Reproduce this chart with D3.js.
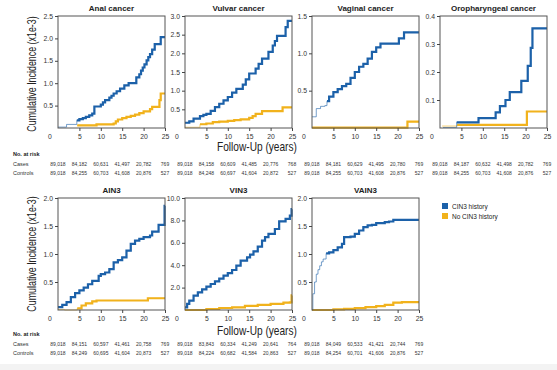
<!DOCTYPE html>
<html>
<head>
<meta charset="utf-8">
<title>Cumulative incidence after CIN3</title>
<script src="https://cdn.jsdelivr.net/npm/d3@7"></script>
<style>
body { margin: 0; background: #fff; }
svg { display: block; font-family: "Liberation Sans", Arial, sans-serif; }
.tick text { fill: #333; font-size: 6.8px; }
.tick line { stroke: #444; }
.domain { display: none; }
</style>
</head>
<body>
<svg width="557" height="370"></svg>
<script>
// ---- data: [year, cumulative incidence x1e-3] ----
var analCIN3 = [[0,0.02],[2,0.08],[4.4,0.17],[5,0.2],[5.8,0.22],[6.5,0.25],[7.3,0.28],[8,0.32],[8.5,0.48],[10,0.52],[10.5,0.57],[11,0.62],[12,0.68],[12.5,0.72],[13,0.77],[13.7,0.82],[14.5,0.88],[15.5,0.95],[16.5,1.0],[18.3,1.13],[19,1.2],[19.4,1.28],[19.8,1.35],[20.2,1.42],[20.7,1.51],[21.1,1.58],[21.5,1.65],[22,1.75],[22.6,1.87],[24,2.03],[25,2.03]];
var analNoCIN3 = [[4.5,0.06],[9,0.08],[13,0.1],[13.5,0.15],[14,0.19],[15,0.22],[16,0.25],[17,0.27],[18,0.3],[19,0.33],[20,0.37],[21.5,0.42],[22,0.47],[23.7,0.62],[24,0.77],[25,0.77]];
var vulvarCIN3 = [[0,0.14],[1,0.18],[2,0.25],[3.5,0.32],[4.3,0.35],[5,0.38],[6,0.46],[7,0.56],[8,0.65],[9,0.74],[10,0.83],[11,0.95],[12,1.05],[13.5,1.16],[14.2,1.3],[15,1.46],[16.5,1.59],[17.2,1.72],[18,1.86],[19.5,2.04],[20.5,2.21],[21,2.33],[21.5,2.47],[23.5,2.7],[24,2.87],[25,2.87]];
var vulvarNoCIN3 = [[0,0.02],[3.5,0.1],[5,0.12],[6.5,0.16],[8,0.17],[10,0.19],[11.5,0.21],[13,0.23],[15,0.27],[15.8,0.32],[16.5,0.38],[18,0.45],[22.8,0.55],[25,0.55]];
var vaginalCIN3 = [[0,0.15],[1,0.26],[2,0.29],[3,0.3],[3.5,0.36],[4,0.42],[5,0.48],[6,0.52],[7,0.56],[8,0.59],[9,0.67],[10,0.75],[11,0.82],[12,0.86],[13,0.93],[14,1.02],[15,1.08],[16,1.13],[20.3,1.2],[21.5,1.28],[25,1.28]];
var vaginalNoCIN3 = [[0,0.005],[22.3,0.085],[25,0.085]];
var oroCIN3 = [[0.7,0.002],[3.9,0.02],[9,0.035],[13,0.056],[14,0.078],[15.3,0.1],[16.3,0.128],[19,0.168],[20.5,0.222],[21.2,0.286],[21.6,0.356],[25,0.356]];
var oroNoCIN3 = [[0.5,0.007],[4,0.011],[20.3,0.059],[25,0.059]];
var ain3CIN3 = [[0,0.05],[1,0.09],[2,0.14],[3,0.23],[4,0.3],[5,0.35],[6,0.4],[7,0.46],[8,0.52],[9.5,0.61],[10,0.64],[11,0.67],[12,0.73],[13,0.85],[14,0.89],[15,0.94],[16,1.06],[17,1.18],[18,1.24],[19,1.27],[20,1.3],[21.5,1.33],[22,1.4],[23.5,1.52],[24.9,1.86],[25,1.86]];
var ain3NoCIN3 = [[0,0.01],[1.5,0.0],[4.5,0.03],[5.5,0.08],[6.5,0.12],[8,0.155],[9,0.17],[21,0.21],[25,0.21]];
var vin3CIN3 = [[0,0.24],[0.5,0.54],[1,0.83],[2,1.28],[3,1.58],[4,1.84],[5,2.08],[6,2.32],[7,2.56],[8,2.8],[9,3.07],[10,3.3],[11,3.57],[12,3.96],[13,4.4],[14.5,4.7],[15.2,4.95],[16,5.24],[17,5.65],[18,6.19],[18.7,6.5],[19.5,6.79],[21,7.23],[22,7.92],[23.5,8.13],[24.5,8.42],[24.9,9.0],[25,9.0]];
var vin3NoCIN3 = [[0,0.0],[5,0.09],[8,0.18],[11,0.24],[14,0.36],[17,0.45],[20,0.54],[23,0.65],[24.5,0.68],[24.9,1.3],[25,1.3]];
var vain3CIN3 = [[0,0.0],[0.2,0.29],[0.6,0.5],[1,0.64],[1.4,0.72],[1.8,0.79],[2.2,0.86],[2.6,0.91],[3.3,1.01],[4,1.03],[5,1.07],[6,1.12],[7,1.18],[7.5,1.3],[9,1.31],[10,1.36],[11,1.42],[12,1.48],[13,1.51],[14,1.52],[15,1.55],[17,1.57],[18,1.58],[19,1.61],[25,1.61]];
var vain3NoCIN3 = [[0,0.0],[5,0.01],[7.5,0.02],[10,0.035],[12.5,0.05],[15,0.07],[17,0.09],[19,0.13],[21,0.14],[25,0.14]];

var riskYears = [0, 5, 10, 15, 20, 25];
var analRisk = [["89,018","84,182","60,631","41,497","20,782","769"],["89,018","84,255","60,703","41,608","20,876","527"]];
var vulvarRisk = [["89,018","84,158","60,609","41,485","20,776","768"],["89,018","84,248","60,697","41,604","20,872","527"]];
var vaginalRisk = [["89,018","84,181","60,629","41,495","20,780","769"],["89,018","84,255","60,703","41,608","20,876","527"]];
var oroRisk = [["89,018","84,187","60,632","41,498","20,782","769"],["89,018","84,255","60,703","41,608","20,876","527"]];
var ain3Risk = [["89,018","84,151","60,597","41,461","20,758","769"],["89,018","84,249","60,695","41,604","20,873","527"]];
var vin3Risk = [["89,018","83,843","60,334","41,249","20,641","764"],["89,018","84,224","60,682","41,584","20,863","527"]];
var vain3Risk = [["89,018","84,049","60,533","41,421","20,744","769"],["89,018","84,254","60,701","41,606","20,876","527"]];

var titles = ["Anal cancer", "Vulvar cancer", "Vaginal cancer", "Oropharyngeal cancer", "AIN3", "VIN3", "VAIN3"];
var yMax = [2.5, 3.0, 1.5, 0.4, 2.0, 10.0, 2.0];
var yTicks = [[0.5,1,1.5,2,2.5],[0.5,1,1.5,2,2.5,3],[0.5,1,1.5],[0.1,0.2,0.3,0.4],[0.5,1,1.5,2],[2,4,6,8,10],[0.5,1,1.5,2]];
var xTicks = [5, 10, 15, 20, 25];
var legendLabels = ["CIN3 history", "No CIN3 history"];

var panels = [
  {cin: analCIN3, no: analNoCIN3, risk: analRisk},
  {cin: vulvarCIN3, no: vulvarNoCIN3, risk: vulvarRisk},
  {cin: vaginalCIN3, no: vaginalNoCIN3, risk: vaginalRisk},
  {cin: oroCIN3, no: oroNoCIN3, risk: oroRisk},
  {cin: ain3CIN3, no: ain3NoCIN3, risk: ain3Risk},
  {cin: vin3CIN3, no: vin3NoCIN3, risk: vin3Risk},
  {cin: vain3CIN3, no: vain3NoCIN3, risk: vain3Risk}
];
// early sparse stretch of each curve is drawn thin (censor-dot look)
var cinThinUntil = [4.4, 0, 3.5, 3.9, 0, 0, 3.3];
var noThinUntil = [0, 3.5, 0, 4, 4.5, 0, 0];

var blue = "#1c61a9", yellow = "#f1b21c";

// ---- layout ----
var colX = [58, 185, 312, 440];
var pw = 107, ph = 112;
var rows = [
  {top: 16, riskY: 156, xlabY: 151, ytitleY: 74},
  {top: 198, riskY: 336, xlabY: 335, ytitleY: 254}
];

var svg = d3.select("svg");

// faint band at the very bottom
svg.append("rect").attr("x", 0).attr("y", 364).attr("width", 557).attr("height", 6).attr("fill", "#f3f3f3");

function drawCurve(g, line, pts, thin, color) {
  g.append("path").datum(pts).attr("d", line)
    .attr("fill", "none").attr("stroke", color).attr("stroke-width", 1).attr("opacity", 0.6);
  var thick = pts.filter(function (d) { return d[0] >= thin; });
  g.append("path").datum(thick).attr("d", line)
    .attr("fill", "none").attr("stroke", color).attr("stroke-width", 2.2);
}

panels.forEach(function (p, i) {
  var row = rows[i < 4 ? 0 : 1];
  var x0 = colX[i < 4 ? i : i - 4];
  var x = d3.scaleLinear().domain([0, 25]).range([x0, x0 + pw]);
  var y = d3.scaleLinear().domain([0, yMax[i]]).range([row.top + ph, row.top]);
  var g = svg.append("g");

  g.append("text")
    .attr("x", x0 + pw / 2).attr("y", row.top - 5)
    .attr("text-anchor", "middle")
    .style("font-size", "8px").style("font-weight", "bold").attr("fill", "#222")
    .text(titles[i]);

  var line = d3.line()
    .x(function (d) { return x(d[0]); })
    .y(function (d) { return y(d[1]); })
    .curve(d3.curveStepAfter);

  drawCurve(g, line, p.no, noThinUntil[i], yellow);
  drawCurve(g, line, p.cin, cinThinUntil[i], blue);

  g.append("rect")
    .attr("x", x0).attr("y", row.top).attr("width", pw).attr("height", ph)
    .attr("fill", "none").attr("stroke", "#555").attr("stroke-width", 1);

  g.append("g").attr("transform", "translate(" + x0 + ",0)")
    .call(d3.axisLeft(y).tickValues(yTicks[i]).tickSize(3).tickPadding(2).tickFormat(d3.format(".1f")));
  g.append("g").attr("transform", "translate(0," + (row.top + ph) + ")")
    .call(d3.axisBottom(x).tickValues(xTicks).tickSize(3).tickPadding(3).tickFormat(d3.format("d")));
  g.append("text")
    .attr("x", x0 - 8).attr("y", row.top + ph + 11)
    .attr("text-anchor", "middle").style("font-size", "6.8px").attr("fill", "#333")
    .text("0");

  // numbers at risk
  p.risk.forEach(function (vals, r) {
    g.selectAll(null).data(vals).enter().append("text")
      .attr("x", function (d, k) { return x(riskYears[k]); })
      .attr("y", row.riskY + 10 + r * 9)
      .attr("text-anchor", "middle")
      .style("font-size", "5px").attr("fill", "#333")
      .text(function (d) { return d; });
  });
});

rows.forEach(function (row) {
  svg.append("text").attr("x", 13).attr("y", row.riskY)
    .style("font-size", "5.5px").style("font-weight", "bold").attr("fill", "#222").text("No. at risk");
  svg.append("text").attr("x", 13).attr("y", row.riskY + 10)
    .style("font-size", "5.5px").attr("fill", "#333").text("Cases");
  svg.append("text").attr("x", 13).attr("y", row.riskY + 19)
    .style("font-size", "5.5px").attr("fill", "#333").text("Controls");

  // condensed look via horizontal squeeze
  svg.append("text")
    .attr("transform", "translate(217," + row.xlabY + ") scale(0.78,1)")
    .style("font-size", "13px").attr("fill", "#222").text("Follow-Up (years)");

  svg.append("text")
    .attr("transform", "translate(36," + row.ytitleY + ") rotate(-90) scale(0.74,1)")
    .attr("text-anchor", "middle")
    .style("font-size", "12px").attr("fill", "#222").text("Cumulative Incidence (x1e-3)");
});

// legend
var leg = svg.append("g");
legendLabels.forEach(function (lab, k) {
  leg.append("rect").attr("x", 442).attr("y", 203 + k * 10).attr("width", 6).attr("height", 6)
    .attr("fill", k === 0 ? blue : yellow);
  leg.append("text").attr("x", 452).attr("y", 209 + k * 10)
    .style("font-size", "6.5px").attr("fill", "#222").text(lab);
});
</script>
</body>
</html>
